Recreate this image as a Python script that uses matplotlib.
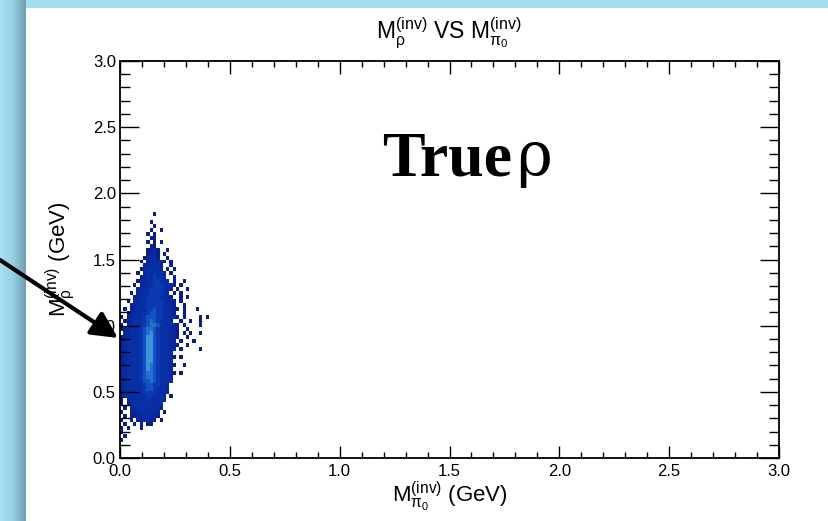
import numpy as np
import matplotlib
matplotlib.use('Agg')
import matplotlib.pyplot as plt
from matplotlib.colors import ListedColormap, BoundaryNorm, LinearSegmentedColormap
from matplotlib.patches import Rectangle, FancyArrowPatch

# 2D histogram: count level per cell ('.' = empty)
# rows go from top (y = 1.83-1.86) down to bottom (y = 0.12-0.15)
x_bin = 0.015
y_bin = 0.03
y_start = 0.12
hist_rows = [
    "..........1",
    "",
    ".........1",
    "..........1",
    ".........1..1",
    "........1.1",
    ".........11",
    "........1.1.1",
    ".........21",
    "........1231..1",
    "........2341.1",
    ".......13452..1",
    "......1.345542.1",
    ".......345541..1",
    "......1455553.1.1",
    ".....1.4555553.1",
    "......24556554..1",
    ".....1345566554.1..1",
    "....1.24556665542.1",
    ".....34556666542.1..1",
    "...1.3455666654.1.1",
    "....245566665542..1.1",
    "..1.3455666665431.1",
    "...23455666665542..1",
    ".1.245556676655421.1...1",
    "..134555677665541..1",
    "1.2455567776655431.1....1.1",
    ".124555678765554..1..1..1",
    "1.2455567887655541.1....1",
    "124555678876555431..1",
    ".34555678976555421.1.1..1",
    "134555679976555431..1",
    "24555567997655542.1...1",
    "245555679976555421..1",
    "34555567997655543.1.....1",
    "3455556799765554",
    "24555567997655541.1",
    "3455556799765554",
    "24555567987655541..1",
    "3455556798765553",
    "24555567887655541.1",
    "3455556788765553",
    "2455556778765553",
    "345555567766554",
    "245555567765554",
    "245555566665543",
    "14555555665554.1",
    "1.345555555554",
    "2.24555555554",
    ".1.3455555541",
    "1..234555543.1",
    ".1.124445431",
    "1..1.234432.1",
    ".1..1.2.11",
    "1.1...1",
    "1",
    ".1",
    "1",
]
level_colors = ['#0b1d86', '#0a2292', '#09269a', '#082aa0', '#082fa6',
                '#0b3ab0', '#1450bf', '#2470cf', '#3d92dc']

x_ticks = [0.0, 0.5, 1.0, 1.5, 2.0, 2.5, 3.0]
y_ticks = [0.0, 0.5, 1.0, 1.5, 2.0, 2.5, 3.0]

ncol = max(len(r) for r in hist_rows)
counts = np.array([[0 if c == '.' else int(c) for c in r.ljust(ncol, '.')]
                   for r in hist_rows[::-1]])
xe = np.arange(counts.shape[1] + 1) * x_bin
ye = y_start + np.arange(counts.shape[0] + 1) * y_bin

plt.rcParams['font.family'] = ['Liberation Sans', 'DejaVu Sans']
plt.rcParams['mathtext.fontset'] = 'custom'
plt.rcParams['mathtext.rm'] = 'Liberation Sans'
plt.rcParams['mathtext.it'] = 'Liberation Sans'
plt.rcParams['mathtext.bf'] = 'Liberation Sans:bold'

W, H = 829, 521
fig = plt.figure(figsize=(W / 100, H / 100), dpi=100)
fig.patch.set_facecolor('#a3ddef')

# slide background: left strip gradient + white panel
strip = fig.add_axes([0, 0, 26 / W, 1])
strip.set_zorder(-3)
strip.axis('off')
grad = LinearSegmentedColormap.from_list('g', ['#a6e0f2', '#98cfe2', '#6f9db2'])
strip.imshow(np.linspace(0, 1, 60)[None, :], aspect='auto', cmap=grad,
             extent=[0, 1, 0, 1])
fig.add_artist(Rectangle((26 / W, 0), 1 - 26 / W, 1 - 8 / H,
                         transform=fig.transFigure, facecolor='white',
                         edgecolor='none', zorder=-2))

left, right, top, bottom = 120, 779, 61, 458
ax = fig.add_axes([left / W, 1 - bottom / H, (right - left) / W, (bottom - top) / H])
ax.set_facecolor('white')

cmap = ListedColormap(level_colors)
norm = BoundaryNorm(np.arange(0.5, 10.5, 1), cmap.N)
ax.pcolormesh(xe, ye, np.ma.masked_equal(counts, 0), cmap=cmap, norm=norm,
              edgecolors='none', antialiased=False)

ax.set_xlim(0, 3)
ax.set_ylim(0, 3)
ax.set_xticks(x_ticks)
ax.set_yticks(y_ticks)
ax.set_xticklabels(['%.1f' % v for v in x_ticks])
ax.set_yticklabels(['%.1f' % v for v in y_ticks])
ax.set_xticks(np.arange(0, 3.001, 0.1), minor=True)
ax.set_yticks(np.arange(0, 3.001, 0.1), minor=True)
ax.tick_params(axis='both', which='both', direction='in', top=True, right=True,
               width=1.0, labelsize=12)
ax.tick_params(axis='x', which='major', length=9, pad=4)
ax.tick_params(axis='x', which='minor', length=4.5)
ax.tick_params(axis='y', which='major', length=14, pad=3)
ax.tick_params(axis='y', which='minor', length=7)
for s in ax.spines.values():
    s.set_linewidth(1.3)

ax.set_xlabel(r'$\mathrm{M_{\pi_{0}}^{(inv)}}$ (GeV)', fontsize=16, va='top')
ax.xaxis.set_label_coords(0.5, -0.053)
ax.set_ylabel(r'$\mathrm{M_{\rho}^{(inv)}}$ (GeV)', fontsize=16)
ax.yaxis.set_label_coords(-0.066, 0.5)

fig.text(449 / W, 1 - 38 / H, r'$\mathrm{M_{\rho}^{(inv)}}$ VS $\mathrm{M_{\pi_{0}}^{(inv)}}$',
         ha='center', va='baseline', fontsize=16.5)

fig.text(382 / W, 1 - 175 / H, 'True', family='Liberation Serif',
         fontweight='bold', fontsize=46, va='baseline')
fig.text(516 / W, 1 - 175 / H, 'ρ', family='DejaVu Serif',
         fontsize=44, va='baseline')

arrow = FancyArrowPatch((0, 1 - 260 / H), (118 / W, 1 - 338 / H),
                        transform=fig.transFigure, arrowstyle='-|>',
                        mutation_scale=40, lw=3, color='black',
                        shrinkA=0, shrinkB=0, zorder=10)
fig.add_artist(arrow)

fig.savefig('out.png', dpi=100)
